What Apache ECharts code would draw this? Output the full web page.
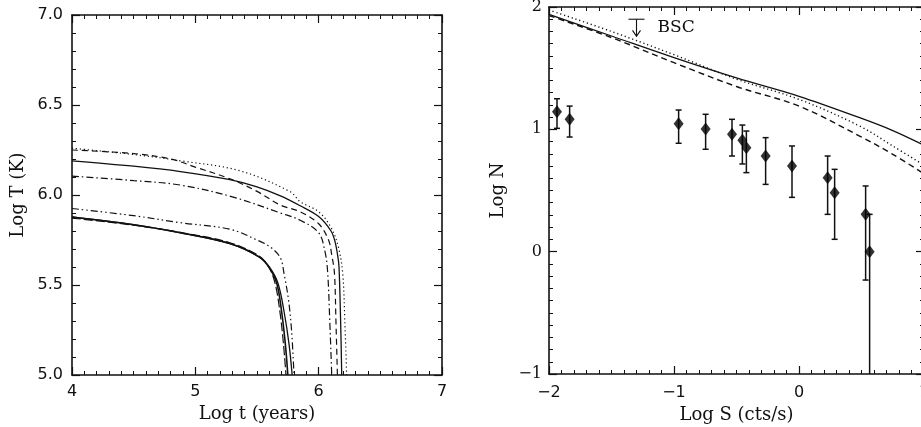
<!DOCTYPE html>
<html>
<head>
<meta charset="utf-8">
<script src="https://cdn.jsdelivr.net/npm/echarts@6/dist/echarts.min.js"></script>
<style>
  html, body { margin: 0; padding: 0; background: #fff; overflow: hidden; }
</style>
</head>
<body>
<!-- two panels in one chart -->
<div id="container" style="width: 921px;height:427px;"></div>
<script>
  // left panel: log t (years) vs log T (K), two groups of cooling curves
  var upSolid = [[4, 6.19], [4.5, 6.16], [4.88, 6.13], [5.28, 6.085], [5.5, 6.045], [5.69, 5.995], [5.85, 5.94], [6.0, 5.88], [6.1, 5.80], [6.133, 5.74], [6.155, 5.66], [6.165, 5.6], [6.178, 5.3], [6.187, 5.0]];
  var upDotted = [[4, 6.26], [4.5, 6.225], [4.88, 6.19], [5.36, 6.135], [5.77, 6.018], [5.85, 5.963], [6.0, 5.907], [6.1, 5.82], [6.16, 5.71], [6.195, 5.565], [6.212, 5.3], [6.227, 5.0]];
  var upDashed = [[4, 6.25], [4.5, 6.23], [4.8, 6.2], [5.0, 6.155], [5.28, 6.09], [5.5, 6.02], [5.69, 5.944], [5.85, 5.907], [6.0, 5.84], [6.08, 5.75], [6.106, 5.667], [6.128, 5.565], [6.14, 5.3], [6.152, 5.0]];
  var upDashDot = [[4, 6.105], [4.5, 6.08], [4.88, 6.055], [5.3, 5.99], [5.69, 5.90], [5.85, 5.86], [6.0, 5.79], [6.05, 5.69], [6.072, 5.58], [6.09, 5.3], [6.106, 5.0]];

  var lowSolidA = [[4, 5.878], [4.5, 5.835], [4.88, 5.79], [5.28, 5.73], [5.52, 5.655], [5.6, 5.595], [5.66, 5.51], [5.7, 5.35], [5.73, 5.17], [5.75, 5.0]];
  var lowDashed = [[4, 5.872], [4.5, 5.832], [4.88, 5.792], [5.28, 5.735], [5.52, 5.66], [5.6, 5.595], [5.65, 5.5], [5.69, 5.33], [5.715, 5.17], [5.735, 5.0]];
  var lowSolidB = [[4, 5.878], [4.5, 5.835], [4.88, 5.79], [5.28, 5.73], [5.52, 5.655], [5.6, 5.6], [5.67, 5.51], [5.72, 5.35], [5.76, 5.17], [5.785, 5.0]];
  var lowDashDotDot = [[4, 5.925], [4.5, 5.885], [4.88, 5.846], [5.28, 5.81], [5.5, 5.75], [5.61, 5.71], [5.69, 5.65], [5.72, 5.56], [5.755, 5.42], [5.78, 5.25], [5.80, 5.0]];

  // right panel: log S (cts/s) vs log N, model curves and observed counts
  var nSolid = [[-2, 1.94], [-1.5, 1.763], [-1, 1.586], [-0.5, 1.42], [0, 1.27], [0.485, 1.095], [0.75, 0.99], [0.98, 0.88]];
  var nDotted = [[-2, 1.975], [-1.5, 1.80], [-1, 1.61], [-0.5, 1.41], [0, 1.245], [0.485, 1.027], [0.75, 0.864], [0.98, 0.72]];
  var nDashed = [[-2, 1.93], [-1.5, 1.75], [-1, 1.545], [-0.5, 1.35], [0, 1.19], [0.485, 0.945], [0.75, 0.796], [0.98, 0.65]];

  var obsS = [-1.936, -1.835, -0.963, -0.747, -0.536, -0.453, -0.421, -0.267, -0.056, 0.229, 0.285, 0.533, 0.565];
  var obsN = [1.144, 1.082, 1.046, 1.003, 0.959, 0.910, 0.850, 0.782, 0.700, 0.605, 0.482, 0.305, 0.0];
  var obsHi = [1.25, 1.19, 1.158, 1.123, 1.082, 1.035, 0.986, 0.932, 0.864, 0.782, 0.673, 0.537, 0.305];
  var obsLo = [1.008, 0.937, 0.886, 0.837, 0.782, 0.717, 0.646, 0.550, 0.444, 0.305, 0.101, -0.232, -1.0];

  // BSC upper limit marker
  var bscS = -1.3, bscTop = 1.90, bscTip = 1.76, bscText = 'BSC';

  var ink = '#111';
  var serif = 'DejaVu Serif';
  var sans = 'DejaVu Sans';

  var myChart = echarts.init(document.getElementById('container'));

  function axis(opt) {
    // framed IDL style axis, ticks pointing inwards
    var a = {
      type: 'value',
      gridIndex: opt.grid,
      position: opt.position,
      min: opt.min,
      max: opt.max,
      interval: opt.interval,
      splitLine: {show: false},
      axisLine: {show: true, onZero: false, lineStyle: {color: ink, width: 1.6}},
      axisTick: {show: true, inside: true, length: 8, lineStyle: {color: ink, width: 1.2}},
      minorTick: {show: true, splitNumber: opt.minor, length: 4, lineStyle: {color: ink, width: 1}},
      axisLabel: {show: false}
    };
    if (opt.label) {
      a.axisLabel = {
        show: true, color: ink, fontFamily: opt.labelFont || sans, fontSize: 16,
        margin: opt.margin, formatter: opt.formatter
      };
      a.name = opt.name;
      a.nameLocation = 'middle';
      a.nameGap = opt.nameGap;
      a.nameRotate = opt.nameRotate;
      a.nameTextStyle = {color: ink, fontFamily: serif, fontSize: 18};
    }
    return a;
  }

  function minus(v) {
    return v < 0 ? '\u2212' + Math.abs(v) : String(v);
  }

  function curve(data, xi, yi, type, width) {
    return {
      type: 'line', xAxisIndex: xi, yAxisIndex: yi, data: data,
      symbol: 'none', smooth: 0.35, silent: true,
      lineStyle: {color: ink, width: width || 1.2, type: type}
    };
  }

  var solid = 'solid';
  var dotted = [1.2, 2.8];
  var dashed = [6, 4];
  var dashDot = [7, 3, 1.5, 3];
  var dashDotDot = [7, 3, 1.5, 3, 1.5, 3];
  var longDash = [9, 3];

  var errData = obsS.map(function (s, i) { return [s, obsLo[i], obsHi[i]]; });
  var ptData = obsS.map(function (s, i) { return [s, obsN[i]]; });

  myChart.setOption({
    animation: false,
    backgroundColor: '#fff',
    grid: [
      {left: 72, top: 15, width: 370, height: 360, outerBoundsMode: 'none'},
      {left: 549, top: 7, width: 375, height: 367, outerBoundsMode: 'none'}
    ],
    xAxis: [
      axis({grid: 0, position: 'bottom', min: 4, max: 7, interval: 1, minor: 10, label: true, margin: 9,
        name: 'Log t (years)', nameGap: 28}),
      axis({grid: 0, position: 'top', min: 4, max: 7, interval: 1, minor: 10}),
      axis({grid: 1, position: 'bottom', min: -2, max: 1, interval: 1, minor: 10, label: true, margin: 11,
        formatter: minus, name: 'Log S (cts/s)', nameGap: 29}),
      axis({grid: 1, position: 'top', min: -2, max: 1, interval: 1, minor: 10})
    ],
    yAxis: [
      axis({grid: 0, position: 'left', min: 5, max: 7, interval: 0.5, minor: 5, label: true, margin: 9,
        formatter: function (v) { return v.toFixed(1); }, name: 'Log T (K)', nameGap: 45, nameRotate: 90}),
      axis({grid: 0, position: 'right', min: 5, max: 7, interval: 0.5, minor: 5}),
      axis({grid: 1, position: 'left', min: -1, max: 2, interval: 1, minor: 10, label: true, margin: 7,
        labelFont: serif, formatter: minus, name: 'Log N', nameGap: 42, nameRotate: 90}),
      axis({grid: 1, position: 'right', min: -1, max: 2, interval: 1, minor: 10})
    ],
    series: [
      curve(upDotted, 0, 0, dotted, 1.2),
      curve(upDashed, 0, 0, dashed),
      curve(upSolid, 0, 0, solid, 1.3),
      curve(upDashDot, 0, 0, dashDot),
      curve(lowDashDotDot, 0, 0, dashDotDot),
      curve(lowDashed, 0, 0, longDash),
      curve(lowSolidA, 0, 0, solid, 1.6),
      curve(lowSolidB, 0, 0, solid, 1.3),

      curve(nDotted, 2, 2, dotted, 1.4),
      curve(nDashed, 2, 2, dashed, 1.4),
      curve(nSolid, 2, 2, solid, 1.3),
      {
        type: 'custom', xAxisIndex: 2, yAxisIndex: 2, data: errData, silent: true,
        encode: {x: 0, y: [1, 2]},
        renderItem: function (params, api) {
          var x = api.value(0);
          var lo = api.coord([x, api.value(1)]);
          var hi = api.coord([x, api.value(2)]);
          var st = {stroke: ink, lineWidth: 1.5};
          var kids = [
            {type: 'line', shape: {x1: hi[0], y1: hi[1], x2: lo[0], y2: lo[1]}, style: st},
            {type: 'line', shape: {x1: hi[0] - 3, y1: hi[1], x2: hi[0] + 3, y2: hi[1]}, style: st}
          ];
          if (api.value(1) > -1) {
            kids.push({type: 'line', shape: {x1: lo[0] - 3, y1: lo[1], x2: lo[0] + 3, y2: lo[1]}, style: st});
          }
          return {type: 'group', children: kids};
        }
      },
      {
        type: 'scatter', xAxisIndex: 2, yAxisIndex: 2, data: ptData, silent: true,
        symbol: 'diamond', symbolSize: [10, 13], itemStyle: {color: '#000'}, z: 5
      },
      {
        type: 'custom', xAxisIndex: 2, yAxisIndex: 2, data: [[bscS, bscTop, bscTip]], silent: true,
        renderItem: function (params, api) {
          var top = api.coord([api.value(0), api.value(1)]);
          var tip = api.coord([api.value(0), api.value(2)]);
          var st = {stroke: ink, lineWidth: 1.1, fill: null};
          return {
            type: 'group', children: [
              {type: 'line', shape: {x1: top[0] - 8, y1: top[1], x2: top[0] + 8, y2: top[1]}, style: st},
              {type: 'line', shape: {x1: top[0], y1: top[1], x2: tip[0], y2: tip[1]}, style: st},
              {type: 'polyline', shape: {points: [[tip[0] - 4, tip[1] - 6], [tip[0], tip[1]], [tip[0] + 4, tip[1] - 6]]}, style: st},
              {type: 'text', style: {text: bscText, x: top[0] + 21, y: top[1] + 8, verticalAlign: 'middle',
                font: '17px "DejaVu Serif"', fill: ink}}
            ]
          };
        }
      }
    ]
  });
</script>
</body>
</html>
